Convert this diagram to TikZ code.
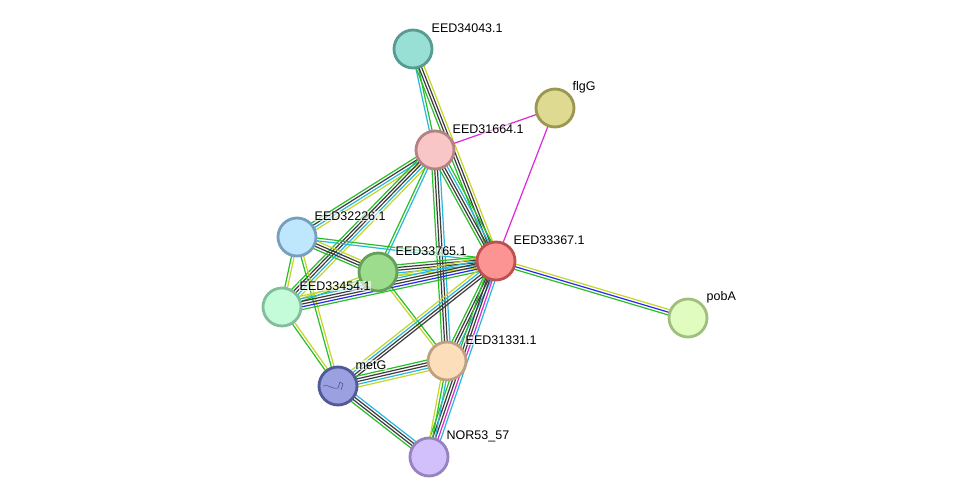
\documentclass[tikz,border=0pt]{standalone}
\usepackage{fontspec}
\setmainfont{Liberation Sans}
\usetikzlibrary{calc,backgrounds}
\definecolor{eg}{RGB}{40,190,40}
\definecolor{ek}{RGB}{60,60,60}
\definecolor{ec}{RGB}{40,184,222}
\definecolor{ey}{RGB}{196,214,40}
\definecolor{eb}{RGB}{40,40,240}
\definecolor{em}{RGB}{220,40,220}
\definecolor{icon}{RGB}{70,80,140}
\tikzset{
  prot/.style={circle, minimum size=38pt, inner sep=0pt, line width=2.8pt},
  lbl/.style={anchor=west, font=\fontsize{12.5}{12.5}\selectfont, fill=white, fill opacity=0.6, text opacity=1, inner sep=0.5pt},
  eline/.style={line width=1.2pt},
}
\newcommand\edgebundle[3]{%
  \foreach \c [count=\i] in {#3} {\xdef\nn{\i}}%
  \foreach \c [count=\i] in {#3} {
    \pgfmathsetmacro\off{(\i-1-(\nn-1)/2)*2.7}
    \draw[eline, \c] ($(#1.center)!\off pt!90:(#2.center)$) -- ($(#2.center)!\off pt!-90:(#1.center)$);
  }%
}
\begin{document}
\begin{tikzpicture}[x=1pt,y=-1pt]
\useasboundingbox (0,0) rectangle (975,503);
% nodes
\node[prot, draw={rgb,255:red,88;green,155;blue,146}, fill={rgb,255:red,152;green,224;blue,214}] (n34043) at (413,49) {};
\node[prot, draw={rgb,255:red,155;green,150;blue,80}, fill={rgb,255:red,222;green,218;blue,146}] (flgG) at (555,108) {};
\node[prot, draw={rgb,255:red,180;green,130;blue,130}, fill={rgb,255:red,248;green,198;blue,198}] (n31664) at (435,150) {};
\node[prot, draw={rgb,255:red,120;green,160;blue,190}, fill={rgb,255:red,190;green,230;blue,253}] (n32226) at (297,237) {};
\node[prot, draw={rgb,255:red,100;green,160;blue,90}, fill={rgb,255:red,156;green,220;blue,140}] (n33765) at (378,272) {};
\node[prot, draw={rgb,255:red,190;green,80;blue,80}, fill={rgb,255:red,252;green,148;blue,148}] (n33367) at (496,261) {};
\node[prot, draw={rgb,255:red,130;green,190;blue,155}, fill={rgb,255:red,196;green,252;blue,218}] (n33454) at (282,307) {};
\node[prot, draw={rgb,255:red,160;green,190;blue,125}, fill={rgb,255:red,224;green,252;blue,190}] (pobA) at (688,318) {};
\node[prot, draw={rgb,255:red,190;green,160;blue,130}, fill={rgb,255:red,252;green,222;blue,186}] (n31331) at (447,361) {};
\node[prot, draw={rgb,255:red,80;green,90;blue,150}, fill={rgb,255:red,154;green,160;blue,224}] (metG) at (338,386) {};
\node[prot, draw={rgb,255:red,150;green,130;blue,190}, fill={rgb,255:red,210;green,192;blue,252}] (nor) at (429,457) {};
% metG icon
\draw[line width=0.5pt, icon] ($(metG.center)+(-15,0)$) .. controls ($(metG.center)+(-8,-2)$) and ($(metG.center)+(-6,4)$) .. ($(metG.center)+(0,2)$) -- ($(metG.center)+(2,-4)$) -- ($(metG.center)+(5,-2)$) -- ($(metG.center)+(3,4)$);
% labels
\node[lbl] (l1) at (431,28) {EED34043.1};
\node[lbl] (l2) at (572,87) {flgG};
\node[lbl] (l3) at (452,129) {EED31664.1};
\node[lbl] (l4) at (314,216) {EED32226.1};
\node[lbl] (l5) at (395,251) {EED33765.1};
\node[lbl] (l6) at (513,240) {EED33367.1};
\node[lbl] (l7) at (299,286) {EED33454.1};
\node[lbl] (l8) at (706,297) {pobA};
\node[lbl] (l9) at (465,340) {EED31331.1};
\node[lbl] (l10) at (355,365) {metG};
\node[lbl] (l11) at (446,436) {NOR53\_57};
% edges
\begin{pgfonlayer}{background}
\fill[white] (0,0) rectangle (975,503);
\edgebundle{n34043}{n31664}{ec,eg}
\edgebundle{n34043}{n33367}{eg,ek,ek,ey}
\edgebundle{flgG}{n31664}{em}
\edgebundle{flgG}{n33367}{em}
\edgebundle{n31664}{n32226}{eg,ek,ec,ey}
\edgebundle{n31664}{n33454}{eg,ek,ek,ec,ey}
\edgebundle{n31664}{n33765}{eg,ec}
\edgebundle{n31664}{n31331}{eg,ek,ek,ec}
\edgebundle{n31664}{n33367}{eg,ek,ek,ec,eg}
\edgebundle{n32226}{n33765}{eg,ek,ek,ey}
\edgebundle{n32226}{n33367}{ec,eg}
\edgebundle{n32226}{n33454}{eg,ey}
\edgebundle{n32226}{metG}{eg,ey}
\edgebundle{n33765}{n33367}{ey,ec,ek,ek,eg}
\edgebundle{n33765}{n33454}{ey,eg}
\edgebundle{n33765}{n31331}{ey,eg}
\edgebundle{n33454}{n33367}{eg,eb,ek,ek,ec,ey}
\edgebundle{n33454}{metG}{eg,ey}
\edgebundle{n33367}{pobA}{eg,eb,ey}
\edgebundle{n33367}{n31331}{eg,ek,ek,ec}
\edgebundle{n33367}{metG}{ey,ec,ek,ek}
\edgebundle{n33367}{nor}{eg,ek,ek,em,ec}
\edgebundle{n31331}{nor}{ey,eg,ec}
\edgebundle{n31331}{metG}{eg,ek,ek,ec,ey}
\edgebundle{metG}{nor}{eg,ek,ek,ec}
\end{pgfonlayer}
\end{tikzpicture}
\end{document}
